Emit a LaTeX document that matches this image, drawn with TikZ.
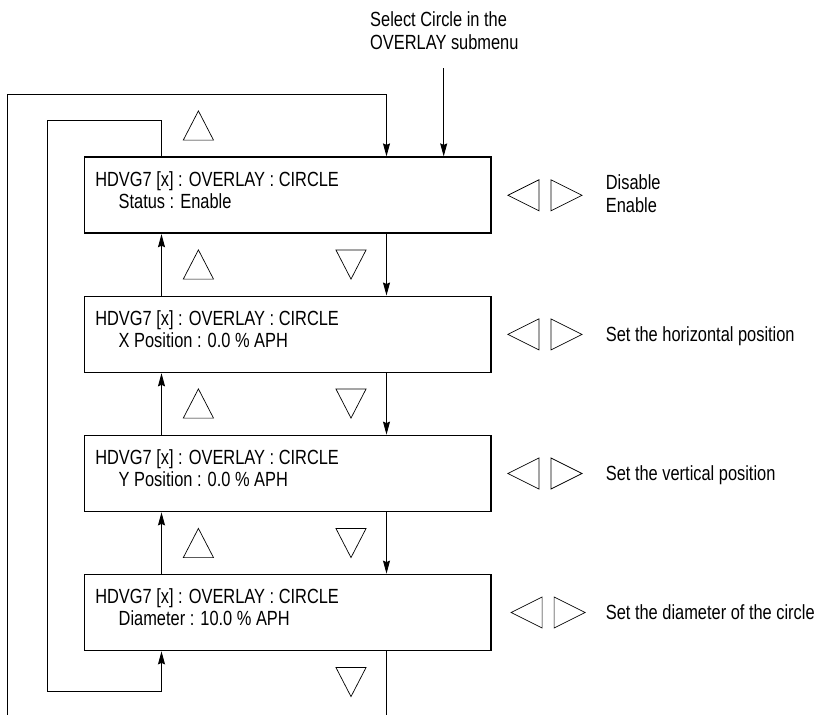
\documentclass[tikz,border=0pt]{standalone}
\usepackage{fontspec}
\setmainfont[FakeStretch=0.8]{Liberation Sans}
\usetikzlibrary{arrows.meta}
\begin{document}
\begin{tikzpicture}[x=1pt,y=-1pt,
  font=\fontsize{20.5}{22}\selectfont,
  box/.style={draw, line width=1.8pt, minimum width=406.6pt, minimum height=76pt, inner sep=0pt},
  lbl/.style={anchor=base west, inner sep=0pt},
  conn/.style={line width=0.9pt},
  arr/.style={conn, -{Stealth[length=13pt,width=7pt,inset=1.5pt]}},
  tri/.style={line width=0.7pt, line join=miter},
  upt/.pic={\draw[tri] (-15.1,14.6) -- (0,-14.6) -- (15.1,14.6) -- cycle;},
  dnt/.pic={\draw[tri] (-15.1,-14.6) -- (0,14.6) -- (15.1,-14.6) -- cycle;},
  lft/.pic={\draw[tri] (15.5,-15.5) -- (-15.5,0) -- (15.5,15.5) -- cycle;},
  rgt/.pic={\draw[tri] (-15.5,-15.5) -- (15.5,0) -- (-15.5,15.5) -- cycle;}
]
\useasboundingbox (0,0) rectangle (815,715);

% boxes
\node[box] (b1) at (287.7,195.3) {};
\node[box] (b2) at (287.7,334.4) {};
\node[box] (b3) at (287.7,473.5) {};
\node[box] (b4) at (287.7,612.5) {};

% box texts
\node[lbl] (b1a) at ([xshift=11.6pt,yshift=-30pt]b1.north west) {HDVG7 [x] : OVERLAY : CIRCLE};
\node[lbl] (b1b) at ([xshift=35pt,yshift=-52pt]b1.north west) {Status : Enable};
\node[lbl] (b2a) at ([xshift=11.6pt,yshift=-30pt]b2.north west) {HDVG7 [x] : OVERLAY : CIRCLE};
\node[lbl] (b2b) at ([xshift=35pt,yshift=-52pt]b2.north west) {X Position : 0.0 \% APH};
\node[lbl] (b3a) at ([xshift=11.6pt,yshift=-30pt]b3.north west) {HDVG7 [x] : OVERLAY : CIRCLE};
\node[lbl] (b3b) at ([xshift=35pt,yshift=-52pt]b3.north west) {Y Position : 0.0 \% APH};
\node[lbl] (b4a) at ([xshift=11.6pt,yshift=-30pt]b4.north west) {HDVG7 [x] : OVERLAY : CIRCLE};
\node[lbl] (b4b) at ([xshift=35pt,yshift=-52pt]b4.north west) {Diameter : 10.0 \% APH};

% top label
\node[lbl] (sel1) at (370,26.7) {Select Circle in the};
\node[lbl] (sel2) at (370,49.3) {OVERLAY submenu};

% right labels
\node[lbl] (r1a) at (605.7,189) {Disable};
\node[lbl] (r1b) at (605.7,212) {Enable};
\node[lbl] (r2) at (605.7,341.7) {Set the horizontal position};
\node[lbl] (r3) at (605.7,480.8) {Set the vertical position};
\node[lbl] (r4) at (605.7,619.8) {Set the diameter of the circle};

% helper coordinates
\coordinate (dx) at (386.5,0);
\coordinate (ux) at (161.5,0);
\coordinate (selstart) at (443.7,68);
\coordinate (il1) at (47.4,120);
\coordinate (il2) at (47.4,691);
\coordinate (ol) at (7.8,715);
\coordinate (olt) at (7.8,94.4);
\coordinate (bx) at (386.5,715);

% connectors
\draw[arr] (selstart) -- (selstart |- b1.north);
\draw[arr] (ol) -- (olt) -| (b1.north -| dx);
\draw[arr] (b1.north -| ux) |- (il1) -- (il2) -| (b4.south -| ux);
\draw[arr] (b1.south -| dx) -- (b2.north -| dx);
\draw[arr] (b2.south -| dx) -- (b3.north -| dx);
\draw[arr] (b3.south -| dx) -- (b4.north -| dx);
\draw[conn] (b4.south -| dx) -- (bx);
\draw[arr] (b2.north -| ux) -- (b1.south -| ux);
\draw[arr] (b3.north -| ux) -- (b2.south -| ux);
\draw[arr] (b4.north -| ux) -- (b3.south -| ux);

% up / down triangles
\pic at (198.4,125.5) {upt};
\pic at (198.4,264.5) {upt};
\pic at (198.4,403.5) {upt};
\pic at (198.4,543) {upt};
\pic at (351,264.5) {dnt};
\pic at (351,403.5) {dnt};
\pic at (351,543) {dnt};
\pic at (351,682) {dnt};

% left / right triangles
\pic at (523.4,195.3) {lft};
\pic at (566.5,195.3) {rgt};
\pic at (523.4,334.4) {lft};
\pic at (566.5,334.4) {rgt};
\pic at (523.4,473.5) {lft};
\pic at (566.5,473.5) {rgt};
\pic at (526.6,612.5) {lft};
\pic at (569.6,612.5) {rgt};
\end{tikzpicture}
\end{document}
